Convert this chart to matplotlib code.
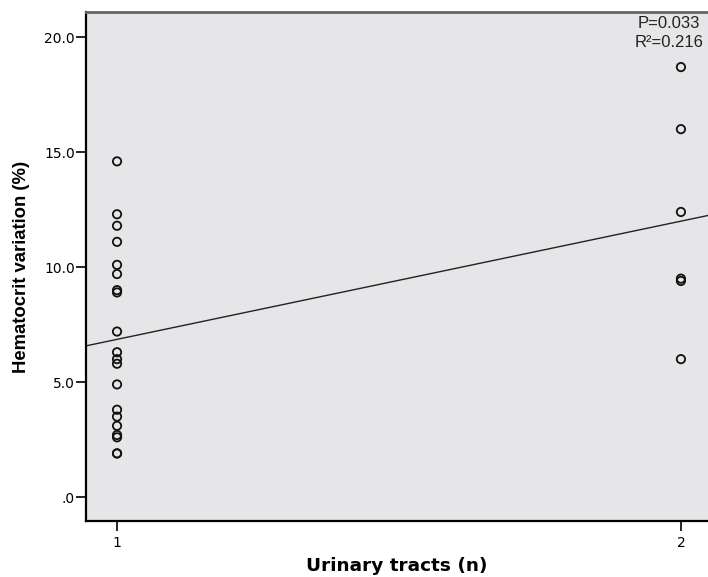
import numpy as np
import matplotlib.pyplot as plt

# urinary tracts (n) and hematocrit variation (%)
tracts_1 = [14.6, 12.3, 11.8, 11.1, 10.1, 9.7, 9.0, 8.9, 7.2, 6.3, 6.0, 5.8,
            4.9, 3.8, 3.5, 3.1, 2.7, 2.6, 1.9, 1.9]
tracts_2 = [18.7, 16.0, 12.4, 9.5, 9.4, 6.0]
y_ticks = [0, 5, 10, 15, 20]
y_tick_labels = ['.0', '5.0', '10.0', '15.0', '20.0']
x_ticks = [1, 2]
p_text = 'P=0.033'
r2_text = 'R²=0.216'

x = np.array([1] * len(tracts_1) + [2] * len(tracts_2), dtype=float)
y = np.array(tracts_1 + tracts_2)
slope, intercept = np.polyfit(x, y, 1)

fig = plt.figure(figsize=(7.08, 5.77), dpi=100)
ax = fig.add_axes([0.1215, 0.097, 0.8785, 0.882])
ax.set_facecolor('#e6e6e8')

ax.scatter(x, y, s=36, facecolors='none', edgecolors='#111111', linewidths=1.3, zorder=3)

xl = (0.945, 2.048)
ax.set_xlim(*xl)
ax.set_ylim(-1.04, 21.09)
xx = np.array(xl)
ax.plot(xx, intercept + slope * xx, color='#222222', lw=1.0, zorder=2)

ax.set_yticks(y_ticks)
ax.set_yticklabels(y_tick_labels)
ax.set_xticks(x_ticks)
ax.tick_params(axis='both', direction='out', length=7, width=1.2, labelsize=10, color='black')
ax.tick_params(axis='y', pad=1)

for side in ['left', 'bottom']:
    ax.spines[side].set_linewidth(1.6)
    ax.spines[side].set_color('black')
ax.spines['top'].set_linewidth(2.0)
ax.spines['top'].set_color('#666666')
ax.spines['right'].set_visible(False)

ax.set_xlabel('Urinary tracts (n)', fontsize=13.3, fontweight='bold', labelpad=5)
ax.set_ylabel('Hematocrit variation (%)', fontsize=13.3, fontweight='bold',
              family='Liberation Sans', labelpad=10)

ax.text(1.923, 20.6, p_text, ha='left', va='center', fontsize=12,
        family='Liberation Sans', color='#222222')
ax.text(1.918, 19.76, r2_text, ha='left', va='center', fontsize=12,
        family='Liberation Sans', color='#222222')

plt.savefig('out.png', dpi=100)
